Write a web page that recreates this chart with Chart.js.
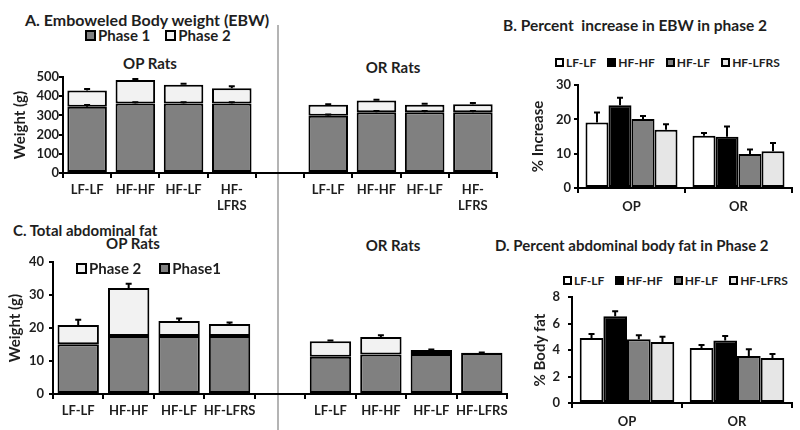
<!DOCTYPE html>
<html>
<head>
<meta charset="utf-8">
<script src="https://cdn.jsdelivr.net/npm/chart.js@4.4.1/dist/chart.umd.min.js"></script>
<style>
  body { margin: 0; background: #fff; }
  #wrap { position: relative; width: 800px; height: 430px; overflow: hidden;
          font-family: Lato, sans-serif; font-weight: bold; color: #1e1e1e; }
  canvas { position: absolute; }
  .lbl { position: absolute; white-space: nowrap; line-height: 18px; height: 18px; }
  .mid { transform: translateX(-50%); }
  .legend { position: absolute; display: flex; align-items: center; white-space: nowrap; height: 18px; }
  .legend .sq { display: inline-block; box-sizing: border-box; border: 2px solid #000; margin-right: 2px; }
  .divider { position: absolute; left: 277px; top: 25px; width: 2px; height: 405px; background: #b4b4b4; }
</style>
</head>
<body>
<div id="wrap">
  <div class="divider"></div>

  <div class="lbl" style="left:25px;top:11px;font-size:16px;">A. Emboweled Body weight (EBW)</div>
  <div class="legend" id="legendA" style="left:85px;top:26px;font-size:15px;"></div>
  <div class="lbl mid" style="left:150px;top:54px;font-size:15px;">OP Rats</div>
  <div class="lbl mid" style="left:393px;top:58px;font-size:15px;">OR Rats</div>
  <canvas id="chartA" width="500" height="150" style="left:0;top:70px;"></canvas>

  <div class="lbl" style="left:503px;top:16px;font-size:15.5px;">B. Percent&nbsp; increase in EBW in phase 2</div>
  <div class="legend" id="legendB" style="left:555px;top:53px;font-size:12px;"></div>
  <canvas id="chartB" width="280" height="140" style="left:520px;top:75px;"></canvas>

  <div class="lbl" style="left:13px;top:221px;font-size:15px;">C. Total abdominal fat</div>
  <div class="lbl mid" style="left:133px;top:234px;font-size:15px;">OP Rats</div>
  <div class="lbl mid" style="left:393px;top:236px;font-size:15px;">OR Rats</div>
  <canvas id="chartC" width="510" height="175" style="left:0;top:255px;"></canvas>
  <div class="legend" id="legendC" style="left:76px;top:259px;font-size:15px;"></div>

  <div class="lbl" style="left:495px;top:236px;font-size:15px;">D. Percent abdominal body fat in Phase 2</div>
  <div class="legend" id="legendD" style="left:563px;top:271px;font-size:12px;"></div>
  <canvas id="chartD" width="280" height="140" style="left:520px;top:290px;"></canvas>
</div>

<script>
const diets = ['LF-LF', 'HF-HF', 'HF-LF', 'HF-LFRS'];
const groups = ['OP', 'OR'];
const dietColors = ['#ffffff', '#000000', '#808080', '#e6e6e6'];
const phaseNames = ['Phase 1', 'Phase 2'];
const phaseColors = ['#808080', '#f2f2f2'];

// A. emboweled body weight (g)
const ebwPhase1OP = [345, 362, 362, 362];
const ebwPhase1OR = [298, 316, 316, 316];
const ebwPhase2OP = [85, 123, 98, 80];
const ebwPhase2OR = [57, 62, 40, 42];
const ebwPhase1ErrOP = [9, 7, 7, 7];
const ebwPhase1ErrOR = [7, 7, 7, 7];
const ebwTotalErrOP = [8, 5, 5, 10];
const ebwTotalErrOR = [3, 4, 5, 6];
const ebwTicks = [0, 100, 200, 300, 400, 500];

// B. percent increase in EBW in phase 2 (OP, OR)
const incLFLF = [19.1, 15.2];
const incHFHF = [24.1, 14.9];
const incHFLF = [20.1, 9.9];
const incHFLFRS = [17.0, 10.7];
const incLFLFErr = [2.9, 0.8];
const incHFHFErr = [2.2, 3.0];
const incHFLFErr = [0.9, 1.3];
const incHFLFRSErr = [1.6, 2.4];
const incTicks = [0, 10, 20, 30];

// C. total abdominal fat (g)
const fatPhase1OP = [15.1, 17.6, 17.6, 17.6];
const fatPhase1OR = [11.3, 12.0, 12.1, 12.4];
const fatPhase2OP = [5.8, 14.5, 4.5, 3.6];
const fatPhase2OR = [4.7, 5.3, 1.2, 0.1];
const fatTotalErrOP = [1.6, 1.3, 0.8, 0.5];
const fatTotalErrOR = [0.2, 0.5, 0.2, 0.1];
const fatTicks = [0, 10, 20, 30, 40];

// D. percent abdominal body fat in phase 2 (OP, OR)
const pctLFLF = [4.9, 4.15];
const pctHFHF = [6.55, 4.72];
const pctHFLF = [4.82, 3.55];
const pctHFLFRS = [4.6, 3.4];
const pctLFLFErr = [0.3, 0.23];
const pctHFHFErr = [0.37, 0.34];
const pctHFLFErr = [0.3, 0.5];
const pctHFLFRSErr = [0.4, 0.3];
const pctTicks = [0, 2, 4, 6, 8];

const textColor = '#1e1e1e';
Chart.defaults.font.family = 'Lato, sans-serif';
Chart.defaults.font.weight = 'bold';
Chart.defaults.color = textColor;

// OP bars, an empty slot, then OR bars
function withGap(op, or) {
    return [...op, null, ...or];
}

// draws upward error bars from the top of each bar segment
const errorBars = {
    id: 'errorBars',
    afterDatasetsDraw(chart) {
        const ctx = chart.ctx;
        const yScale = chart.scales.y;
        chart.data.datasets.forEach((ds, i) => {
            if (!ds.errors) return;
            const meta = chart.getDatasetMeta(i);
            meta.data.forEach((bar, j) => {
                const err = ds.errors[j];
                if (err == null || ds.data[j] == null) return;
                const top = yScale.getValueForPixel(bar.y);
                const yErr = yScale.getPixelForValue(top + err);
                ctx.save();
                ctx.strokeStyle = '#000';
                ctx.lineWidth = 2;
                ctx.beginPath();
                ctx.moveTo(bar.x, bar.y);
                ctx.lineTo(bar.x, yErr);
                ctx.moveTo(bar.x - 3, yErr);
                ctx.lineTo(bar.x + 3, yErr);
                ctx.stroke();
                ctx.restore();
            });
        });
    }
};

function makeScales(p) {
    return {
        x: {
            stacked: !!p.stacked,
            border: { color: '#000', width: 2 },
            grid: { offset: true, drawOnChartArea: false, color: '#000', lineWidth: 2, tickLength: 5 },
            ticks: { color: textColor, font: { size: 13, weight: 'bold' }, padding: p.xPad,
                     maxRotation: 0, autoSkip: false },
            afterFit: s => { s.height = p.xHeight; s.paddingLeft = 0; s.paddingRight = 0; }
        },
        y: {
            stacked: !!p.stacked,
            min: 0,
            max: p.ticks[p.ticks.length - 1],
            border: { color: '#000', width: 2 },
            grid: { drawOnChartArea: false, color: '#000', lineWidth: 2, tickLength: 4 },
            ticks: { stepSize: p.ticks[1] - p.ticks[0], padding: p.yPad, color: textColor,
                     font: { size: 13, weight: 'bold' } },
            title: { display: true, text: p.title, color: textColor, font: { size: 15, weight: 'bold' },
                     padding: { top: p.titlePad, bottom: 0 } },
            afterFit: s => { s.width = p.yWidth; s.paddingTop = 0; s.paddingBottom = 0; }
        }
    };
}

function stackedChart(id, labels, p1, p2, e1, e2, scaleOpts, pad) {
    const bar = { borderColor: '#000', borderWidth: 2, borderSkipped: false,
                  barPercentage: 0.82, categoryPercentage: 1 };
    return new Chart(document.getElementById(id), {
        type: 'bar',
        data: {
            labels: labels,
            datasets: [
                { label: phaseNames[0], data: p1, backgroundColor: phaseColors[0], errors: e1, ...bar },
                { label: phaseNames[1], data: p2, backgroundColor: phaseColors[1], errors: e2, ...bar }
            ]
        },
        options: {
            responsive: false,
            animation: false,
            layout: { padding: pad },
            plugins: { legend: { display: false }, tooltip: { enabled: false } },
            scales: makeScales({ ...scaleOpts, stacked: true })
        },
        plugins: [errorBars]
    });
}

function groupedChart(id, values, errors, scaleOpts, pad) {
    return new Chart(document.getElementById(id), {
        type: 'bar',
        data: {
            labels: groups,
            datasets: diets.map((d, i) => ({
                label: d,
                data: values[i],
                errors: errors[i],
                backgroundColor: dietColors[i],
                borderColor: '#000',
                borderWidth: 2,
                borderSkipped: false,
                barPercentage: 1,
                categoryPercentage: 0.86
            }))
        },
        options: {
            responsive: false,
            animation: false,
            layout: { padding: pad },
            plugins: { legend: { display: false }, tooltip: { enabled: false } },
            scales: makeScales(scaleOpts)
        },
        plugins: [errorBars]
    });
}

function legend(id, names, colors, size, gap) {
    const el = document.getElementById(id);
    names.forEach((n, i) => {
        const sq = document.createElement('span');
        sq.className = 'sq';
        sq.style.width = size + 'px';
        sq.style.height = size + 'px';
        sq.style.background = colors[i];
        const txt = document.createElement('span');
        txt.textContent = n;
        txt.style.marginRight = (i < names.length - 1 ? gap : 0) + 'px';
        el.appendChild(sq);
        el.appendChild(txt);
    });
}

const ebwLabels = withGap(diets, diets).map(d => d === 'HF-LFRS' ? ['HF-', 'LFRS'] : (d || ''));
const fatLabels = withGap(diets, diets).map(d => d || '');

stackedChart('chartA', ebwLabels,
    withGap(ebwPhase1OP, ebwPhase1OR), withGap(ebwPhase2OP, ebwPhase2OR),
    withGap(ebwPhase1ErrOP, ebwPhase1ErrOR), withGap(ebwTotalErrOP, ebwTotalErrOR),
    { ticks: ebwTicks, title: 'Weight (g)', yWidth: 63, xHeight: 47, titlePad: 11, yPad: 0, xPad: 4 },
    { top: 7, right: 3, left: 0, bottom: 0 });

groupedChart('chartB', [incLFLF, incHFHF, incHFLF, incHFLFRS],
    [incLFLFErr, incHFHFErr, incHFLFErr, incHFLFRSErr],
    { ticks: incTicks, title: '% Increase', yWidth: 58, xHeight: 27, titlePad: 9, yPad: 3, xPad: 6 },
    { top: 10, right: 8, left: 0, bottom: 0 });

stackedChart('chartC', fatLabels,
    withGap(fatPhase1OP, fatPhase1OR), withGap(fatPhase2OP, fatPhase2OR),
    null, withGap(fatTotalErrOP, fatTotalErrOR),
    { ticks: fatTicks, title: 'Weight (g)', yWidth: 53, xHeight: 36, titlePad: 6, yPad: 5, xPad: 4 },
    { top: 7, right: 3, left: 0, bottom: 0 });

groupedChart('chartD', [pctLFLF, pctHFHF, pctHFLF, pctHFLFRS],
    [pctLFLFErr, pctHFHFErr, pctHFLFErr, pctHFLFRSErr],
    { ticks: pctTicks, title: '% Body fat', yWidth: 52, xHeight: 27, titlePad: 11, yPad: 8, xPad: 6 },
    { top: 7, right: 8, left: 0, bottom: 0 });

legend('legendA', phaseNames, phaseColors, 11, 15);
legend('legendB', diets, dietColors, 9, 11);
legend('legendC', ['Phase 2', 'Phase1'], [phaseColors[1], phaseColors[0]], 11, 18);
legend('legendD', diets, dietColors, 9, 11);
</script>
</body>
</html>
